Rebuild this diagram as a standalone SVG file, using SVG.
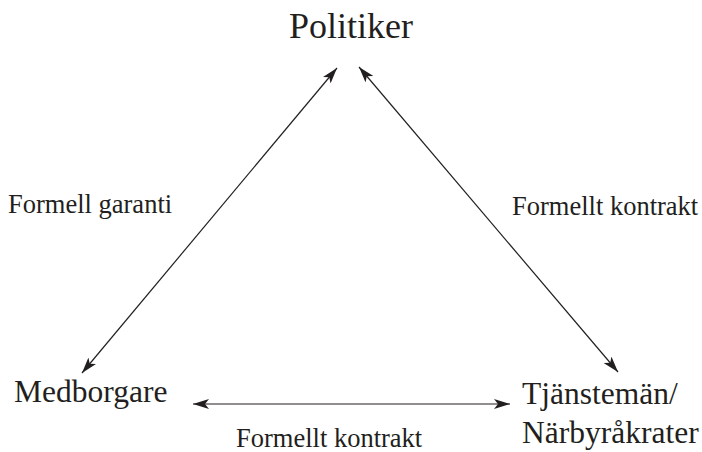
<svg xmlns="http://www.w3.org/2000/svg" width="702" height="452" viewBox="0 0 702 452">
  <style>
    .txt { font-family: "Liberation Serif", "Times New Roman", serif; fill: #231f20; }
    .node { font-size: 31.5px; }
    .title { font-size: 36px; }
    .rel { font-size: 26.5px; }
    .conn { stroke: #231f20; stroke-width: 1.2; fill: none; marker-start: url(#head); marker-end: url(#head); }
  </style>
  <defs>
    <!-- filled barbed arrowhead shared by every connector end -->
    <marker id="head" viewBox="0 0 16 10" refX="16" refY="5" markerWidth="16" markerHeight="10" markerUnits="userSpaceOnUse" orient="auto-start-reverse">
      <path d="M0,0 L16,5 L0,10 L4,5 Z" fill="#231f20"/>
    </marker>
  </defs>
  <rect width="702" height="452" fill="#ffffff"/>

  <g id="connectors">
    <line class="conn" x1="82" y1="373" x2="337" y2="68"/>
    <line class="conn" x1="618" y1="372" x2="359" y2="67"/>
    <line class="conn" x1="193" y1="404" x2="510" y2="404"/>
  </g>

  <g id="relations">
    <text class="txt rel" x="8" y="213">Formell garanti</text>
    <text class="txt rel" x="512" y="215">Formellt kontrakt</text>
    <text class="txt rel" x="236" y="447">Formellt kontrakt</text>
  </g>

  <g id="politiker">
    <text class="txt title" x="351" y="38" text-anchor="middle">Politiker</text>
  </g>
  <g id="medborgare">
    <text class="txt node" x="14" y="402">Medborgare</text>
  </g>
  <g id="tjansteman">
    <text class="txt node" x="522" y="404">Tjänstemän/</text>
    <text class="txt node" x="522" y="443">Närbyråkrater</text>
  </g>
</svg>
